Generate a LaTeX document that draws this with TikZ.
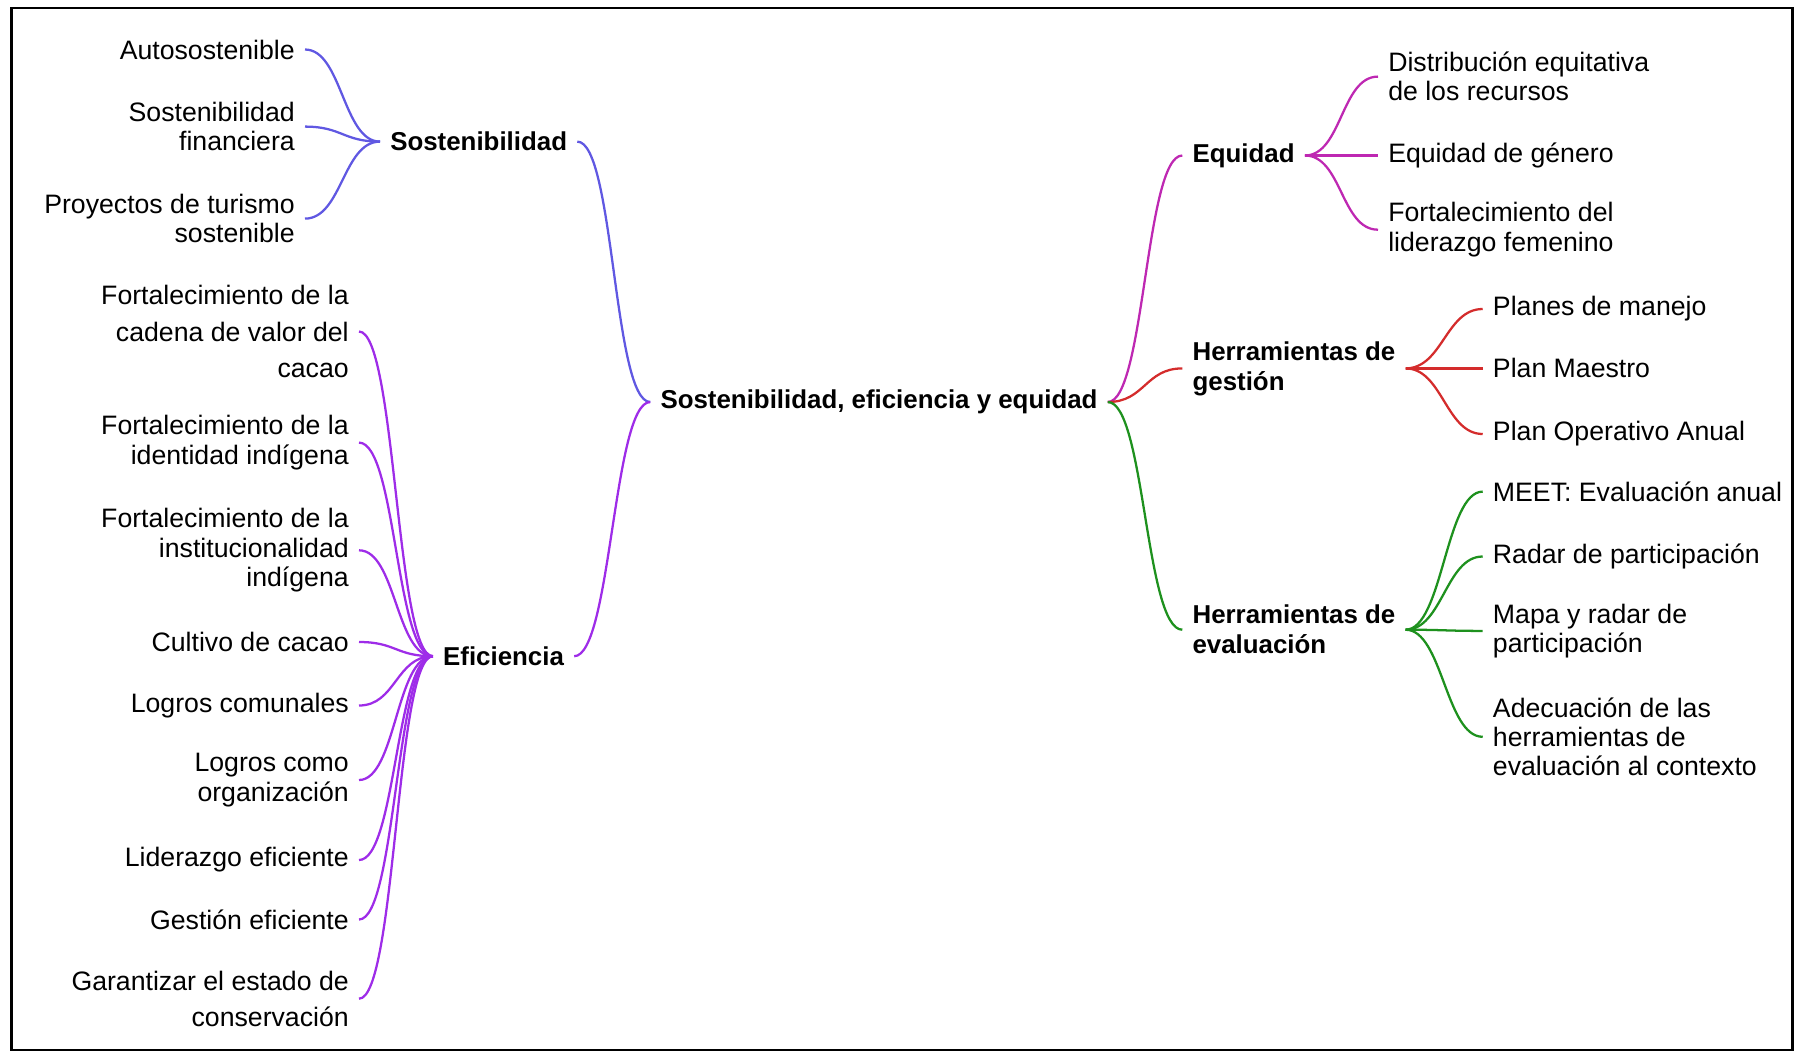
\documentclass[tikz,border=0pt]{standalone}
\usepackage{fontspec}
\setmainfont{Liberation Sans}
\usepackage{tikz}
\usetikzlibrary{positioning}
\definecolor{sostC}{RGB}{96,88,226}
\definecolor{efiC}{RGB}{158,44,232}
\definecolor{equC}{RGB}{190,40,178}
\definecolor{gesC}{RGB}{212,44,44}
\definecolor{evaC}{RGB}{30,145,30}
\tikzset{
  leafL/.style ={anchor=east, align=right, inner xsep=7.5pt, inner ysep=1pt,
                 font=\fontsize{20}{22}\selectfont},
  leafR/.style ={anchor=west, align=left, inner xsep=7.5pt, inner ysep=1pt,
                 font=\fontsize{20}{22}\selectfont},
  topic/.style ={inner xsep=7.5pt, inner ysep=1pt,
                 font=\fontsize{19.4}{22.5}\selectfont\bfseries},
  lnk/.style   ={line width=1.7pt, #1,
                 to path={.. controls +(37,0) and +(-37,0) .. (\tikztotarget)}},
}
\begin{document}
\begin{tikzpicture}[x=0.75pt, y=-0.75pt]
  \useasboundingbox (0,0) rectangle (1805,1054);
  \draw[line width=1.6pt] (11.5,8) rectangle (1792.5,1050);
  % centre
  \node[topic] (root) at (879,402) {Sostenibilidad, eficiencia y equidad};
  % left: sostenibilidad
  \node[topic, anchor=west] (sost) at (380,141.6) {Sostenibilidad};
  \node[leafL] (s1) at (305,49.5) {Autosostenible};
  \node[leafL] (s2) at (305,126.6) {Sostenibilidad\\financiera};
  \node[leafL] (s3) at (305,218.6) {Proyectos de turismo\\sostenible};
  % left: eficiencia
  \node[topic, anchor=west] (efi) at (432.9,656.2) {Eficiencia};
  \node[leafL, font=\fontsize{20}{27.2}\selectfont] (e1) at (359,331.5)
    {Fortalecimiento de la\\cadena de valor del\\cacao};
  \node[leafL] (e2) at (359,442.6) {Fortalecimiento de la\\identidad indígena};
  \node[leafL] (e3) at (359,550.3)
    {Fortalecimiento de la\\institucionalidad\\indígena};
  \node[leafL] (e4) at (359,642) {Cultivo de cacao};
  \node[leafL] (e5) at (359,705.5) {Logros comunales};
  \node[leafL] (e6) at (359,780) {Logros como\\organización};
  \node[leafL] (e7) at (359,860) {Liderazgo eficiente};
  \node[leafL] (e8) at (359,919.5) {Gestión eficiente};
  \node[leafL, font=\fontsize{20}{26.8}\selectfont] (e9) at (359,998.7)
    {Garantizar el estado de\\conservación};
  % right: equidad
  \node[topic, anchor=west] (equ) at (1182.3,155.5) {Equidad};
  \node[leafR] (q1) at (1378,76.6) {Distribución equitativa\\de los recursos};
  \node[leafR] (q2) at (1378,155.5) {Equidad de género};
  \node[leafR] (q3) at (1378,229.7) {Fortalecimiento del\\liderazgo femenino};
  % right: herramientas de gestion
  \node[topic, anchor=west, align=left] (ges) at (1182.3,368.4)
    {Herramientas de\\gestión};
  \node[leafR] (g1) at (1482.7,309) {Planes de manejo};
  \node[leafR] (g2) at (1482.7,368.4) {Plan Maestro};
  \node[leafR] (g3) at (1482.7,434) {Plan Operativo Anual};
  % right: herramientas de evaluacion
  \node[topic, anchor=west, align=left] (eva) at (1182.3,629.7)
    {Herramientas de\\evaluación};
  \node[leafR] (v1) at (1482.7,491.6) {MEET: Evaluación anual};
  \node[leafR] (v2) at (1482.7,556.5) {Radar de participación};
  \node[leafR] (v3) at (1482.7,630.9) {Mapa y radar de\\participación};
  \node[leafR] (v4) at (1482.7,736.8)
    {Adecuación de las\\herramientas de\\evaluación al contexto};
  % connectors
  \foreach \n in {s1,s2,s3} \draw[lnk=sostC] (\n.east) to (sost.west);
  \foreach \n in {e1,e2,e3,e4,e5,e6,e7,e8,e9} \draw[lnk=efiC] (\n.east) to (efi.west);
  \draw[lnk=sostC] (sost.east) to (root.west);
  \draw[lnk=efiC] (efi.east) to (root.west);
  \draw[lnk=equC] (root.east) to (equ.west);
  \draw[lnk=gesC] (root.east) to (ges.west);
  \draw[lnk=evaC] (root.east) to (eva.west);
  \foreach \n in {q1,q2,q3} \draw[lnk=equC] (equ.east) to (\n.west);
  \foreach \n in {g1,g2,g3} \draw[lnk=gesC] (ges.east) to (\n.west);
  \foreach \n in {v1,v2,v3,v4} \draw[lnk=evaC] (eva.east) to (\n.west);
\end{tikzpicture}
\end{document}
